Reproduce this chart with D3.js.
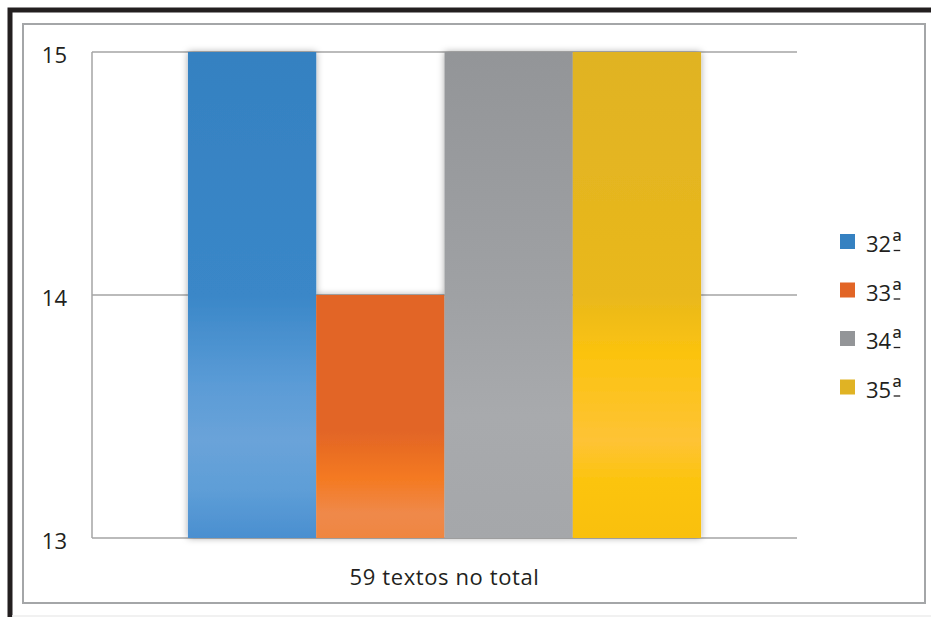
<!DOCTYPE html>
<html>
<head>
<meta charset="utf-8">
<script src="https://cdn.jsdelivr.net/npm/d3@7"></script>
<style>
  html, body { margin: 0; padding: 0; background: #fff; }
  svg { display: block; }
  text { font-family: "Open Sans", "Noto Sans", sans-serif; fill: #231f20; }
</style>
</head>
<body>
<svg id="chart" width="931" height="617"></svg>
<script>
// Data
const categories = ["59 textos no total"];
const series = ["32ª", "33ª", "34ª", "35ª"];
const values = [15, 14, 15, 15];
const yTicks = [13, 14, 15];
const yDomain = [13, 15];

// Series colours (legend swatches) and bar gradient stops
const baseColors = ["#3581c1", "#e26526", "#939598", "#e0b324"];
const gradientStops = [
  [[0, "#3581c1"], [0.5, "#3a87c8"], [0.68, "#5a9bd6"], [0.8, "#6aa3d9"], [0.9, "#5e9ed7"], [1, "#4a8fd0"]],
  [[0, "#e26526"], [0.78, "#e26526"], [0.875, "#f47920"], [0.95, "#ef894a"], [1, "#ef8640"]],
  [[0, "#939598"], [0.5, "#9fa1a4"], [0.75, "#a8aaad"], [1, "#a5a7aa"]],
  [[0, "#e0b324"], [0.5, "#e9b81c"], [0.62, "#fbc30f"], [0.8, "#fec335"], [0.88, "#fcc40f"], [1, "#f9c010"]]
];

const svg = d3.select("#chart");
const plot = { left: 92, right: 797, top: 52, bottom: 538 };

const x0 = d3.scaleBand().domain(categories).range([plot.left, plot.right])
  .paddingInner(0).paddingOuter(0.187);
const x1 = d3.scaleBand().domain(series).range([0, x0.bandwidth()]).padding(0);
const y = d3.scaleLinear().domain(yDomain).range([plot.bottom, plot.top]);

const defs = svg.append("defs");
series.forEach((s, i) => {
  const g = defs.append("linearGradient")
    .attr("id", "grad" + i)
    .attr("gradientUnits", "userSpaceOnUse")
    .attr("x1", 0).attr("x2", 0)
    .attr("y1", y(yDomain[1])).attr("y2", y(yDomain[0]));
  gradientStops[i].forEach(([o, c]) => g.append("stop").attr("offset", o).attr("stop-color", c));
});
const shadow = defs.append("filter").attr("id", "barShadow")
  .attr("x", "-10%").attr("y", "-10%").attr("width", "120%").attr("height", "120%");
shadow.append("feDropShadow").attr("dx", 0).attr("dy", 0)
  .attr("stdDeviation", 3.5).attr("flood-color", "#000").attr("flood-opacity", 0.35);

// Outer black frame (runs past the right and bottom edges)
svg.append("rect").attr("x", 10).attr("y", 10).attr("width", 940).attr("height", 640)
  .attr("fill", "none").attr("stroke", "#231f20").attr("stroke-width", 5);
svg.append("line").attr("x1", 12).attr("x2", 931).attr("y1", 616).attr("y2", 616)
  .attr("stroke", "#ececec").attr("stroke-width", 1.5);

// Inner chart-area border
svg.append("rect").attr("x", 23).attr("y", 24).attr("width", 902).attr("height", 579)
  .attr("fill", "#fff").attr("stroke", "#a4a6a8").attr("stroke-width", 2);

// Gridlines
svg.append("g").selectAll("line").data(yTicks).join("line")
  .attr("x1", plot.left).attr("x2", plot.right)
  .attr("y1", d => y(d)).attr("y2", d => y(d))
  .attr("stroke", "#a4a4a4").attr("stroke-width", 1.5);

// Vertical axis line
svg.append("line").attr("x1", plot.left).attr("x2", plot.left)
  .attr("y1", plot.top).attr("y2", plot.bottom)
  .attr("stroke", "#a4a4a4").attr("stroke-width", 1.5);

// Bars
const barsG = svg.append("g").attr("filter", "url(#barShadow)");
categories.forEach(cat => {
  barsG.selectAll("rect.bar").data(series).join("rect")
    .attr("class", "bar")
    .attr("x", s => x0(cat) + x1(s))
    .attr("width", x1.bandwidth())
    .attr("y", (s, i) => y(values[i]))
    .attr("height", (s, i) => y(yDomain[0]) - y(values[i]))
    .attr("fill", (s, i) => "url(#grad" + i + ")");
});

// Y tick labels
svg.append("g").selectAll("text").data(yTicks).join("text")
  .attr("x", 67).attr("y", d => y(d) + 11)
  .attr("text-anchor", "end")
  .style("font-size", "22px")
  .text(d => d);

// X category label
svg.append("g").selectAll("text").data(categories).join("text")
  .attr("x", d => x0(d) + x0.bandwidth() / 2).attr("y", 585)
  .attr("text-anchor", "middle")
  .style("font-size", "22px")
  .style("letter-spacing", "0.6px")
  .text(d => d);

// Legend: ordinal indicator drawn a little larger, with its bar just under it
const legend = svg.append("g").selectAll("g").data(series).join("g")
  .attr("transform", (d, i) => `translate(840, ${234 + i * 48.5})`);
legend.append("rect").attr("width", 15).attr("height", 15)
  .attr("fill", (d, i) => baseColors[i]);
const lt = legend.append("text").attr("x", 26).attr("y", 18).style("font-size", "22px");
lt.append("tspan").text(d => d.slice(0, -1));
lt.append("tspan").attr("dx", 1).style("font-size", "27px").text(d => d.slice(-1));
legend.each(function (d) {
  const t = d3.select(this).select("text").node();
  const box = t.getExtentOfChar(d.length - 1);
  d3.select(this).append("line")
    .attr("x1", box.x + 1.5).attr("x2", box.x + box.width - 1.5)
    .attr("y1", 16.5).attr("y2", 16.5)
    .attr("stroke", "#231f20").attr("stroke-width", 1.3);
});
</script>
</body>
</html>
